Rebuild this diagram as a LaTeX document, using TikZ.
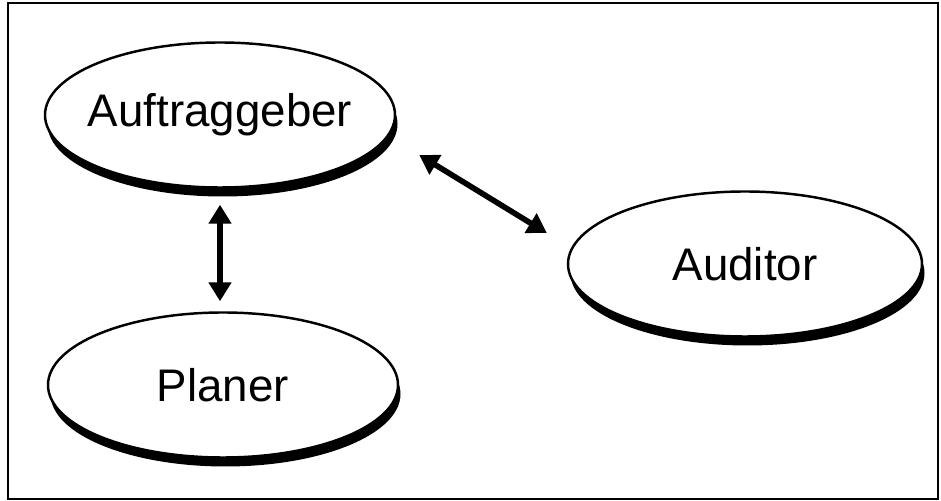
\documentclass[tikz,border=0pt]{standalone}
\usepackage{fontspec}
\setmainfont{Liberation Sans}
\usetikzlibrary{positioning,calc,arrows.meta,shapes.geometric,shadows}
\tikzset{font=\fontsize{26}{30}\selectfont}
\tikzset{role/.style={ellipse, draw, line width=1.4pt, fill=white, inner xsep=-0.2cm, minimum width=7cm, minimum height=2.9cm,
	drop shadow={shadow xshift=0.05cm, shadow yshift=-0.18cm, fill=black, opacity=1}}}
\tikzset{dbl/.style={{Triangle[length=0.38cm,width=0.44cm]}-{Triangle[length=0.38cm,width=0.44cm]}, line width=3.2pt}}

\begin{document}
\begin{tikzpicture}
	\useasboundingbox (0,0) rectangle (18.82,10.02);
	\draw[line width=1pt] (0.16,0.04) rectangle (18.76,9.96);
	\begin{scope}
		\node[role] (auf) at (4.4, 7.72) {Auftraggeber};
		\node[role] (pla) at (4.46, 2.32) {Planer};
		\node[role, minimum width=7.08cm] (aud) at (14.9, 4.74) {Auditor};

		\draw[dbl] ([yshift=-0.32cm]auf.south) -- ([yshift=0.2cm]auf.south |- pla.north);
		\draw[dbl] ([shift={(0.46,-0.8)}]auf.east) -- ([shift={(-0.4,0.62)}]aud.west);
	\end{scope}
\end{tikzpicture}
\end{document}
